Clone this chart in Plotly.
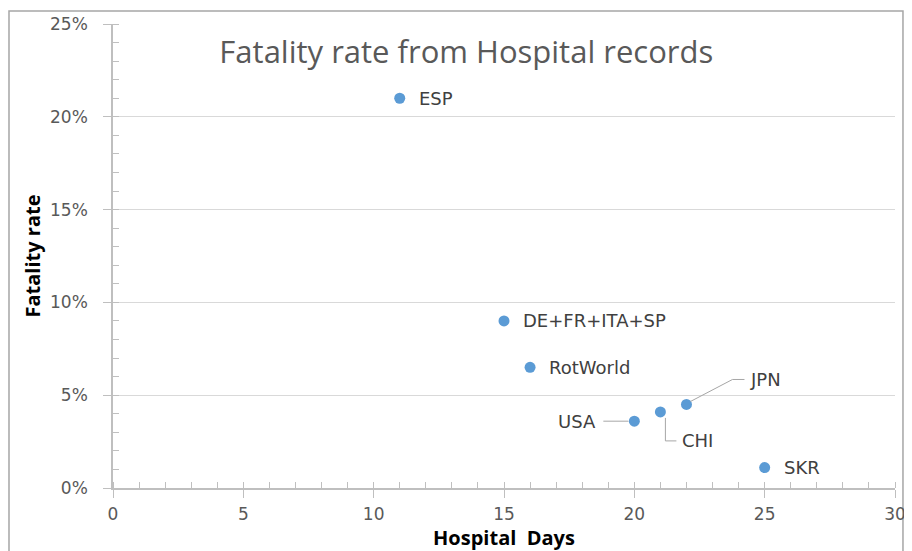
import plotly.graph_objects as go

countries = ["ESP", "DE+FR+ITA+SP", "RotWorld", "USA", "CHI", "JPN", "SKR"]
hospital_days = [11, 15, 16, 20, 21, 22, 25]
fatality_rate = [0.21, 0.09, 0.065, 0.036, 0.041, 0.045, 0.011]

x_ticks = [0, 5, 10, 15, 20, 25, 30]
y_ticks = [0, 0.05, 0.10, 0.15, 0.20, 0.25]
y_tick_labels = ["0%", "5%", "10%", "15%", "20%", "25%"]

label_color = "#404040"
tick_color = "#595959"
axis_grey = "#BFBFBF"
leader_grey = "#A6A6A6"
label_font = dict(size=18, color=label_color, family="DejaVu Sans")

fig = go.Figure()
fig.add_trace(go.Scatter(
    x=hospital_days, y=fatality_rate, mode="markers",
    marker=dict(size=11, color="#5B9BD5"),
    hoverinfo="text", text=countries, showlegend=False,
))

# plain labels to the right of the point
for name, xv, yv in zip(countries, hospital_days, fatality_rate):
    if name in ("USA", "CHI", "JPN"):
        continue
    fig.add_annotation(x=xv, y=yv, text=name, showarrow=False,
                       xanchor="left", xshift=17, font=label_font)

idx = {n: i for i, n in enumerate(countries)}

# USA: label left with horizontal leader line
i = idx["USA"]
fig.add_annotation(x=hospital_days[i], y=fatality_rate[i], text="USA", showarrow=False,
                   xanchor="right", xshift=-36, font=label_font)
fig.add_shape(type="line", xref="x", yref="y", xsizemode="pixel", ysizemode="pixel",
              xanchor=hospital_days[i], yanchor=fatality_rate[i],
              x0=-31, x1=-6, y0=0, y1=0, line=dict(color=leader_grey, width=1))

# CHI: elbow leader line, label below right
i = idx["CHI"]
fig.add_shape(type="path", xref="x", yref="y", xsizemode="pixel", ysizemode="pixel",
              xanchor=hospital_days[i], yanchor=fatality_rate[i],
              path="M5,-6 L5,-29 L16,-29", line=dict(color=leader_grey, width=1))
fig.add_annotation(x=hospital_days[i], y=fatality_rate[i], text="CHI", showarrow=False,
                   xanchor="left", xshift=20, yshift=-29, font=label_font)

# JPN: diagonal + horizontal leader line, label upper right
i = idx["JPN"]
fig.add_shape(type="path", xref="x", yref="y", xsizemode="pixel", ysizemode="pixel",
              xanchor=hospital_days[i], yanchor=fatality_rate[i],
              path="M4,3 L46,25 L58,25", line=dict(color=leader_grey, width=1))
fig.add_annotation(x=hospital_days[i], y=fatality_rate[i], text="JPN", showarrow=False,
                   xanchor="left", xshift=62, yshift=25, font=label_font)

# chart border
fig.add_shape(type="rect", xref="paper", yref="paper",
              x0=-0.133, x1=1.0102, y0=-0.2, y1=1.028,
              line=dict(color="#A6A6A6", width=1.5), layer="below")

fig.update_layout(
    width=904, height=543,
    margin=dict(l=105, r=17, t=16, b=63, autoexpand=False),
    paper_bgcolor="white", plot_bgcolor="white",
    title=dict(text="Fatality rate from Hospital records", x=0.507, xanchor="center",
               y=0.919, yanchor="middle",
               font=dict(size=31, color=tick_color, family="Open Sans")),
    xaxis=dict(range=[0, 30], tickvals=x_ticks, ticks="outside", ticklen=8,
               tickcolor=axis_grey, showline=True, linecolor=axis_grey, linewidth=1.5,
               showgrid=False, zeroline=False, ticklabelstandoff=2, automargin=False,
               minor=dict(dtick=1, ticks="inside", ticklen=6, tickcolor=axis_grey),
               tickfont=dict(size=17, color=tick_color, family="DejaVu Sans"),
               title=dict(text="Hospital&nbsp; Days", standoff=6,
                          font=dict(size=20, color="black", family="Open Sans",
                                    weight="bold"))),
    yaxis=dict(range=[0, 0.25], tickvals=y_ticks, ticktext=y_tick_labels,
               ticks="outside", ticklen=8, tickcolor=axis_grey,
               showline=True, linecolor=axis_grey, linewidth=1.5,
               showgrid=True, gridcolor="#D9D9D9", gridwidth=1, zeroline=False,
               ticklabelstandoff=12, automargin=False,
               minor=dict(dtick=0.01, ticks="inside", ticklen=6, tickcolor=axis_grey,
                          showgrid=False),
               tickfont=dict(size=17, color=tick_color, family="DejaVu Sans"),
               title=dict(text="Fatality rate", standoff=4,
                          font=dict(size=20, color="black", family="Open Sans",
                                    weight="bold"))),
)

fig.write_html("out.html")
